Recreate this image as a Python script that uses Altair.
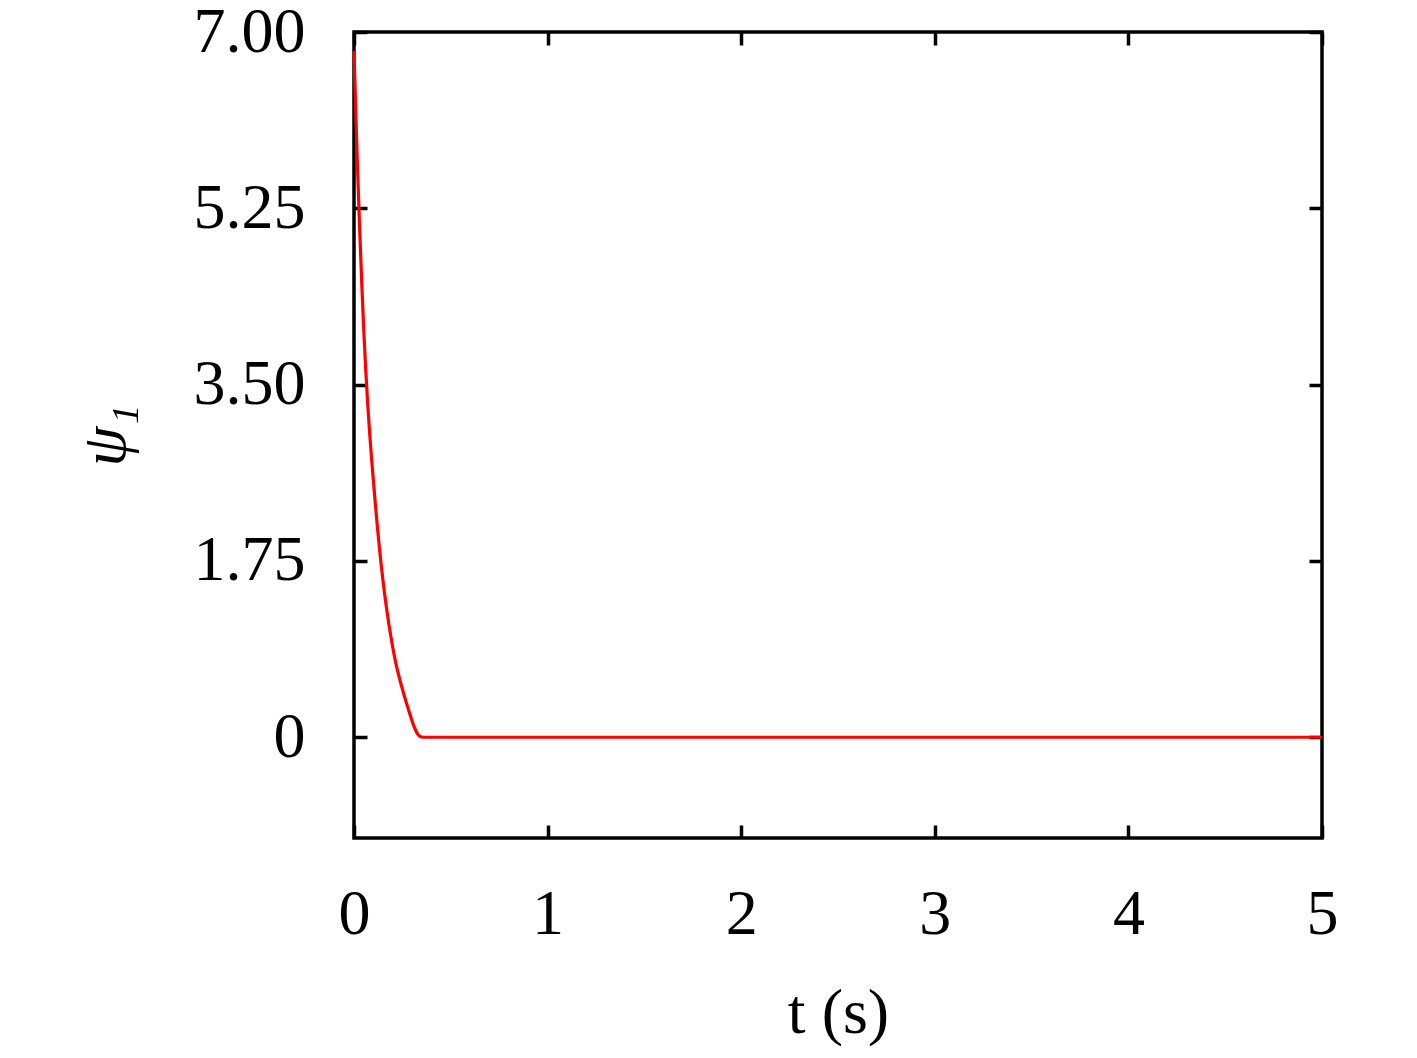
import altair as alt
import pandas as pd

# time (s)
t_vals = [0.00, 0.01, 0.02, 0.03, 0.04, 0.05, 0.06, 0.07, 0.08, 0.09,
          0.10, 0.11, 0.12, 0.13, 0.14, 0.15, 0.16, 0.17, 0.18, 0.19,
          0.20, 0.21, 0.22, 0.23, 0.24, 0.25, 0.26, 0.27, 0.28, 0.29,
          0.30, 0.31, 0.32, 0.33, 0.34, 0.35, 0.36, 0.37,
          0.50, 1.0, 2.0, 3.0, 4.0, 5.0]
# psi_1
psi_vals = [6.81, 6.15, 5.55, 5.01, 4.51, 4.06, 3.67, 3.33, 3.04, 2.785,
            2.55, 2.32, 2.105, 1.905, 1.72, 1.55, 1.395, 1.255, 1.125, 1.005,
            0.893, 0.792, 0.702, 0.622, 0.547, 0.477, 0.41, 0.345, 0.282, 0.221,
            0.162, 0.108, 0.062, 0.028, 0.009, 0.002, 0.0, 0.0,
            0.0, 0.0, 0.0, 0.0, 0.0, 0.0]

x_ticks = [0, 1, 2, 3, 4, 5]
y_ticks = [0, 1.75, 3.5, 5.25, 7.0]
x_domain = [0, 5]
y_domain = [-1, 7]

df = pd.DataFrame({"t": t_vals, "psi": psi_vals})

FONT = "Liberation Serif"
TICK = 13

main = alt.Chart(df).mark_line(color="#ff0000", strokeWidth=3.2, interpolate="monotone").encode(
    x=alt.X("t:Q",
            scale=alt.Scale(domain=x_domain, nice=False, zero=False),
            axis=alt.Axis(orient="bottom", values=x_ticks, format="d", title="t (s)",
                          offset=-TICK, tickSize=TICK, domain=False, grid=False,
                          labelFlush=False, labelPadding=44, titlePadding=35)),
    y=alt.Y("psi:Q",
            scale=alt.Scale(domain=y_domain, nice=False, zero=False),
            axis=alt.Axis(orient="left", values=y_ticks,
                          labelExpr="datum.value == 0 ? '0' : format(datum.value, '.2f')",
                          title="ψ₁", titleFontStyle="italic",
                          offset=-TICK, tickSize=TICK, domain=False, grid=False,
                          labelFlush=False, labelPadding=49, titlePadding=56)),
)

mirror = alt.Chart(df).mark_line(opacity=0).encode(
    x=alt.X("t:Q",
            scale=alt.Scale(domain=x_domain, nice=False, zero=False),
            axis=alt.Axis(orient="top", values=x_ticks, labels=False, title="",
                          offset=-TICK, tickSize=TICK, domain=False, grid=False)),
    y=alt.Y("psi:Q",
            scale=alt.Scale(domain=y_domain, nice=False, zero=False),
            axis=alt.Axis(orient="right", values=y_ticks, labels=False, title="",
                          offset=-TICK, tickSize=TICK, domain=False, grid=False)),
)

chart = alt.layer(mirror, main).resolve_scale(
    x="independent", y="independent"
).properties(
    width=968, height=806,
    autosize=alt.AutoSizeParams(type="none"),
    padding={"left": 346, "top": 24, "right": 80, "bottom": 208},
    background="white",
).configure_view(
    stroke="black", strokeWidth=3.5
).configure_axis(
    labelFont=FONT, labelFontSize=64, labelColor="black",
    titleFont=FONT, titleFontSize=64, titleColor="black", titleFontWeight="normal",
    tickColor="black", tickWidth=3.5,
)

chart.save("out.html", embed_options={"renderer": "svg", "actions": False})
